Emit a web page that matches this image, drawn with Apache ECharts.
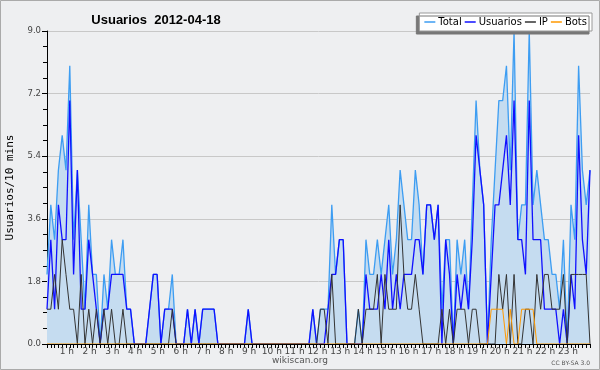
<!DOCTYPE html>
<html><head><meta charset="utf-8">
<script src="https://cdn.jsdelivr.net/npm/echarts/dist/echarts.min.js"></script>
<style>html,body{margin:0;padding:0;background:#eeeff1}#c{width:600px;height:370px}</style>
</head><body><div id="c"></div><script>
const hourLabels = ['1 h','2 h','3 h','4 h','5 h','6 h','7 h','8 h','9 h','10 h','11 h','12 h','13 h','14 h','15 h','16 h','17 h','18 h','19 h','20 h','21 h','22 h','23 h'];
const usuarios = [1,3,1,4,3,3,7,2,5,1, 1,3,2,1,0,1,1,2,2,2, 2,1,1,0,0,0,0,1,2,2, 0,1,1,1,0,0,0,1,0,1, 0,1,1,1,1,0,0,0,0,0, 0,0,0,1,0,0,0,0,0,0, 0,0,0,0,0,0,0,0,0,0, 1,0,0,0,1,2,2,3,3,0, 0,0,0,0,2,1,1,1,2,1, 3,1,2,1,2,2,2,3,3,2, 4,4,3,4,0,3,2,0,2,1, 2,1,3,6,5,4,0,2,4,4, 5,6,4,7,3,3,2,7,3,3, 3,1,1,1,1,0,1,0,2,1, 6,3,2,5];
const ip = [1,1,2,1,3,2,1,1,0,2, 0,1,0,1,0,1,0,1,0,0, 1,0,0,0,0,0,0,0,0,0, 0,0,0,1,0,0,0,0,0,0, 0,0,0,0,0,0,0,0,0,0, 0,0,0,0,0,0,0,0,0,0, 0,0,0,0,0,0,0,0,0,0, 0,0,1,1,0,2,0,0,0,0, 0,0,1,0,1,1,1,2,0,2, 1,1,1,4,2,1,1,2,1,0, 0,0,0,0,1,0,1,0,1,1, 1,0,1,1,0,0,0,0,0,2, 1,2,0,2,0,0,1,1,0,2, 1,2,2,1,1,1,2,0,2,2, 2,2,2,0];
const bots = [0,0,0,0,0,0,0,0,0,0, 0,0,0,0,0,0,0,0,0,0, 0,0,0,0,0,0,0,0,0,0, 0,0,0,0,0,0,0,0,0,0, 0,0,0,0,0,0,0,0,0,0, 0,0,0,0,0,0,0,0,0,0, 0,0,0,0,0,0,0,0,0,0, 0,0,0,0,0,0,0,0,0,0, 0,0,0,0,0,0,0,0,0,0, 0,0,0,0,0,0,0,0,0,0, 0,0,0,0,0,0,0,0,0,0, 0,0,0,0,0,0,0,1,1,1, 1,0,1,0,0,1,1,1,1,0, 0,0,0,0,0,0,0,0,0,0, 0,0,0,0];
const total = [2,4,3,5,6,5,8,3,5,3, 1,4,2,2,0,2,1,3,2,2, 3,1,1,0,0,0,0,1,2,2, 0,1,1,2,0,0,0,1,0,1, 0,1,1,1,1,0,0,0,0,0, 0,0,0,1,0,0,0,0,0,0, 0,0,0,0,0,0,0,0,0,0, 1,0,1,1,1,4,2,3,3,0, 0,0,1,0,3,2,2,3,2,3, 4,2,3,5,4,3,3,5,4,2, 4,4,3,4,1,3,3,0,3,2, 3,1,4,7,5,4,0,3,5,7, 7,8,5,9,3,4,4,9,4,5, 4,3,3,2,2,1,3,0,4,3, 8,5,4,5];
const categories = [];
for (let h = 0; h < 24; h++) for (let m = 0; m < 60; m += 10) categories.push(String(h).padStart(2,'0') + ':' + String(m).padStart(2,'0'));

const chart = echarts.init(document.getElementById('c'));
chart.setOption({
  animation: false,
  backgroundColor: '#eeeff1',
  title: { text: 'Usuarios  2012-04-18', left: 151, top: 9, textAlign: 'center',
    textStyle: { fontFamily: 'Liberation Sans', fontSize: 13, fontWeight: 'bold', color: '#000' } },
  legend: { data: ['Total','Usuarios','IP','Bots'], right: 8, top: 13, backgroundColor: '#fff',
    borderColor: '#999', borderWidth: 1, padding: [4,5,4,5], itemGap: 3, itemWidth: 11, itemHeight: 1.5, icon: 'rect',
    textStyle: { fontFamily: 'DejaVu Sans', fontSize: 10, color: '#000', padding: [0,0,0,-2] },
    shadowColor: '#777', shadowOffsetX: -3, shadowOffsetY: 3, shadowBlur: 0 },
  grid: { left: 47, right: 10, top: 31, bottom: 26, containLabel: false, outerBoundsMode: 'none' },
  xAxis: { type: 'category', data: categories, boundaryGap: false, z: 10,
    axisLine: { lineStyle: { color: '#000', width: 1 } },
    axisTick: { interval: 0, length: 4, lineStyle: { color: '#000' } },
    axisLabel: { interval: (i) => i > 0 && i % 6 === 0, formatter: (v, i) => hourLabels[i / 6 - 1],
      fontFamily: 'DejaVu Sans', fontSize: 9, color: '#444', margin: 3, padding: [0, 6, 0, 0] },
    splitLine: { show: false } },
  yAxis: { type: 'value', min: 0, max: 9, interval: 1.8,
    name: 'Usuarios/10 mins', nameLocation: 'middle', nameGap: 31,
    nameTextStyle: { fontFamily: 'DejaVu Sans Mono', fontSize: 11, color: '#000' },
    axisLine: { show: true, lineStyle: { color: '#000' } },
    axisTick: { show: true, length: 5, lineStyle: { color: '#000' } },
    minorTick: { show: true, splitNumber: 4, length: 4, lineStyle: { color: '#000' } },
    axisLabel: { formatter: (v) => v.toFixed(1), fontFamily: 'DejaVu Sans', fontSize: 8.5, color: '#444', margin: 6 },
    splitLine: { lineStyle: { color: '#c8c8c8' } } },
  series: [
    { name: 'Total', type: 'line', data: total, symbol: 'none', color: '#3d9df2',
      lineStyle: { color: '#3d9df2', width: 1.3 }, areaStyle: { color: '#c5dcf0', opacity: 1 } },
    { name: 'Usuarios', type: 'line', data: usuarios, symbol: 'none', color: '#1010ff',
      lineStyle: { color: '#1010ff', width: 1.3 } },
    { name: 'IP', type: 'line', data: ip, symbol: 'none', color: '#333',
      lineStyle: { color: '#333', width: 1 } },
    { name: 'Bots', type: 'line', data: bots, symbol: 'none', color: '#ff9900',
      lineStyle: { color: '#ff9900', width: 1 } }
  ],
  graphic: [
    { type: 'rect', shape: { x: 0.5, y: 0.5, width: 599, height: 369 }, style: { fill: 'none', stroke: '#aaa', lineWidth: 1 }, silent: true },
    { type: 'text', x: 300, y: 356, style: { text: 'wikiscan.org', fontFamily: 'DejaVu Sans', fontSize: 9, fill: '#555', textAlign: 'center' } },
    { type: 'text', right: 10, bottom: 4, style: { text: 'CC BY-SA 3.0', fontFamily: 'DejaVu Sans', fontSize: 6, fill: '#555' } }
  ]
});
</script></body></html>
